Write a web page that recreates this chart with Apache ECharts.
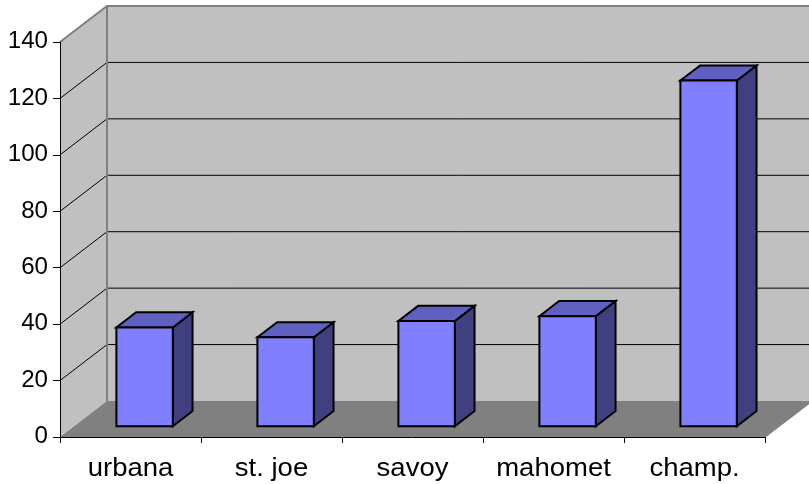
<!DOCTYPE html>
<html>
<head>
<meta charset="utf-8">
<script src="https://cdn.jsdelivr.net/npm/echarts@6/dist/echarts.min.js"></script>
<style>
  html, body { margin: 0; padding: 0; background: #fff; }
  #chart { width: 809px; height: 484px; }
</style>
</head>
<body>
<div id="chart"></div>
<script>
// Town counts shown as 3-D columns
const categories = ['urbana', 'st. joe', 'savoy', 'mahomet', 'champ.'];
const values = [35, 31.5, 37.3, 39, 122.5];
const yMin = 0;
const yMax = 140;
const yStep = 20;
const yTickValues = [0, 20, 40, 60, 80, 100, 120, 140];
const gridValues = [20, 40, 60, 80, 100, 120];

// depth vector of the box (wall offset) and the column placement inside it
const DEPTH = [47, -36];
const FRONT_FRAC = 0.3;
const BACK_FRAC = 0.72;
const BAR_FRAC = 0.4;

// the labels use a slightly widened Arial-style face
const FONT_FAMILY = "'Liberation Sans', Arial, sans-serif";
const X_FONT = '25px ' + FONT_FAMILY;
const Y_FONT = '23px ' + FONT_FAMILY;
const X_WIDEN = 1.1;
const Y_WIDEN = 1.05;

const chart = echarts.init(document.getElementById('chart'), null, { renderer: 'canvas' });

function shift(p, f) {
  return [p[0] + DEPTH[0] * f, p[1] + DEPTH[1] * f];
}

// Floor, side wall, back wall, their gridlines and the axis texts
function renderWalls(params, api) {
  const n = categories.length;
  const half = api.size([1, 0])[0] / 2;
  const c0 = api.coord([0, yMin]);
  const cTop = api.coord([0, yMax]);
  const xL = c0[0] - half;
  const xR = api.coord([n - 1, yMin])[0] + half;
  const y0 = c0[1];
  const yT = cTop[1];
  const fl = [xL, y0], fr = [xR, y0];
  const tl = [xL, yT];
  const children = [];
  const wallFill = '#c0c0c0';
  const edge = '#808080';
  // side wall
  children.push({ type: 'polygon', shape: { points: [fl, tl, shift(tl, 1), shift(fl, 1)] },
    style: { fill: wallFill, stroke: null } });
  // back wall
  children.push({ type: 'polygon', shape: { points: [shift(tl, 1), shift([xR, yT], 1), shift(fr, 1), shift(fl, 1)] },
    style: { fill: wallFill, stroke: null } });
  // floor
  children.push({ type: 'polygon', shape: { points: [fl, fr, shift(fr, 1), shift(fl, 1)] },
    style: { fill: '#808080', stroke: null } });
  // gridlines
  gridValues.forEach(function (v) {
    const y = api.coord([0, v])[1];
    const a = [xL, y];
    const b = shift(a, 1);
    children.push({ type: 'polyline', shape: { points: [a, b, [xR + DEPTH[0], b[1]]] },
      style: { stroke: '#000', lineWidth: 1, fill: null } });
  });
  // wall edges
  children.push({ type: 'polyline', shape: { points: [tl, shift(tl, 1), shift([xR, yT], 1)] },
    style: { stroke: edge, lineWidth: 2, fill: null } });
  children.push({ type: 'line', shape: { x1: xL + DEPTH[0], y1: yT + DEPTH[1], x2: xL + DEPTH[0], y2: y0 + DEPTH[1] },
    style: { stroke: edge, lineWidth: 2 } });
  children.push({ type: 'line', shape: { x1: fr[0], y1: fr[1], x2: fr[0] + DEPTH[0], y2: fr[1] + DEPTH[1] },
    style: { stroke: edge, lineWidth: 1.5 } });
  // category names under the axis
  categories.forEach(function (name, i) {
    const p = api.coord([i, yMin]);
    children.push({ type: 'text', x: p[0], y: p[1] + 32, scaleX: X_WIDEN,
      style: { text: name, font: X_FONT, fill: '#000', textAlign: 'center', textVerticalAlign: 'middle' } });
  });
  // value labels left of the axis
  yTickValues.forEach(function (v) {
    const p = api.coord([0, v]);
    children.push({ type: 'text', x: xL - 12, y: p[1], scaleX: Y_WIDEN,
      style: { text: String(v), font: Y_FONT, fill: '#000', textAlign: 'right', textVerticalAlign: 'middle' } });
  });
  return { type: 'group', children: children };
}

// One 3-D column per category
function renderBar(params, api) {
  const i = api.value(0);
  const v = api.value(1);
  const base = api.coord([i, yMin]);
  const top = api.coord([i, v]);
  const w = api.size([1, 0])[0] * BAR_FRAC;
  const fb = shift([base[0] - w / 2, base[1]], FRONT_FRAC);
  const ft = shift([base[0] - w / 2, top[1]], FRONT_FRAC);
  const d = [DEPTH[0] * (BACK_FRAC - FRONT_FRAC), DEPTH[1] * (BACK_FRAC - FRONT_FRAC)];
  const x1 = fb[0], x2 = fb[0] + w, yb = fb[1], yt = ft[1];
  const stroke = { stroke: '#000', lineWidth: 2, lineJoin: 'miter' };
  return {
    type: 'group',
    children: [
      { type: 'polygon', shape: { points: [[x2, yb], [x2, yt], [x2 + d[0], yt + d[1]], [x2 + d[0], yb + d[1]]] },
        style: Object.assign({ fill: '#404080' }, stroke) },
      { type: 'polygon', shape: { points: [[x1, yt], [x2, yt], [x2 + d[0], yt + d[1]], [x1 + d[0], yt + d[1]]] },
        style: Object.assign({ fill: '#6060c0' }, stroke) },
      { type: 'rect', shape: { x: x1, y: yt, width: w, height: yb - yt },
        style: Object.assign({ fill: '#8080ff' }, stroke) }
    ]
  };
}

chart.setOption({
  animation: false,
  backgroundColor: '#ffffff',
  grid: { left: 60, right: 44, top: 42, bottom: 47 },
  xAxis: {
    type: 'category',
    data: categories,
    z: 10,
    boundaryGap: true,
    axisLine: { lineStyle: { color: '#000', width: 1 } },
    axisTick: { show: true, length: 6, lineStyle: { color: '#000' } },
    axisLabel: { show: false },
    splitLine: { show: false }
  },
  yAxis: {
    type: 'value',
    min: yMin,
    max: yMax,
    interval: yStep,
    z: 10,
    axisLine: { show: true, lineStyle: { color: '#000', width: 1 } },
    axisTick: { show: true, length: 7, lineStyle: { color: '#000' } },
    axisLabel: { show: false },
    splitLine: { show: false }
  },
  series: [
    {
      type: 'custom',
      z: 1,
      renderItem: renderWalls,
      data: [[0, 0]],
      silent: true
    },
    {
      type: 'custom',
      z: 3,
      renderItem: renderBar,
      data: values.map(function (v, i) { return [i, v]; })
    }
  ]
});
</script>
</body>
</html>
